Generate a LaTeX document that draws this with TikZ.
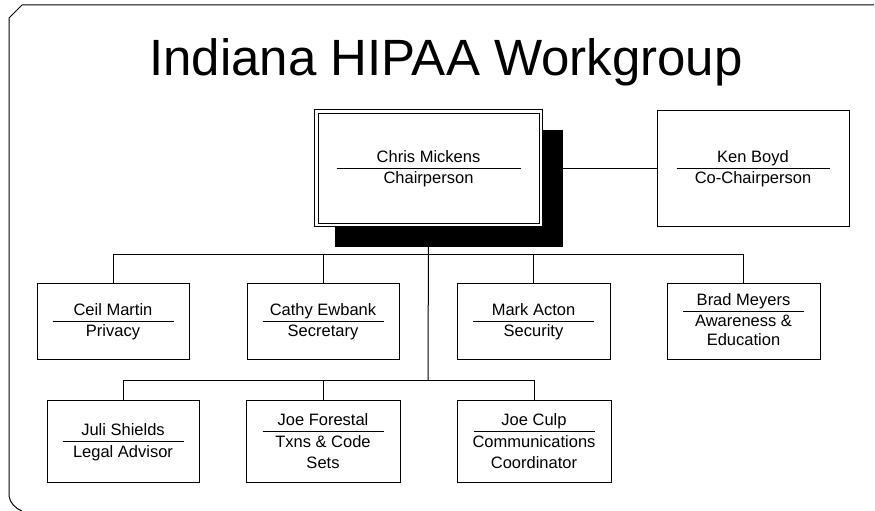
\documentclass[tikz,border=0pt]{standalone}
\usepackage{fontspec}
\setmainfont{Liberation Sans}
\usetikzlibrary{calc}
\begin{document}
\begin{tikzpicture}[x=1pt,y=-1pt,
  box/.style={draw=black, line width=1pt, fill=white, inner sep=0pt},
  txt/.style={inner sep=0pt, anchor=base, font=\fontsize{16.5}{19}\selectfont},
  conn/.style={draw=black, line width=1pt},
  sep/.style={draw=black, line width=1pt}]
\useasboundingbox (0,0) rectangle (875,511);
% outer frame (partially cropped)
\draw[line width=1pt] (874,5) -- (22,5) -- (9,18) -- (9,496) .. controls (10,503) and (15,508) .. (22,511);
% title
\node[inner sep=0pt, anchor=base, font=\fontsize{51}{60}\selectfont] (title) at (446,75) {Indiana HIPAA Workgroup};
% box positions (nodes)
\node[box, minimum width=227pt, minimum height=116pt, draw=none, fill=none] (chair) at (428.5,168) {};
\node[box, minimum width=192pt, minimum height=116pt] (ken) at (753,168) {};
\coordinate (j1) at (428,254);
\coordinate (j2) at (428,380);
\node[box, minimum width=152pt, minimum height=76pt] (ceil) at (113,321) {};
\node[box, minimum width=152pt, minimum height=76pt] (cathy) at (323,321) {};
\node[box, minimum width=153pt, minimum height=76pt] (mark) at (533.5,321) {};
\node[box, minimum width=153pt, minimum height=76pt] (brad) at (743.5,321) {};
\node[box, minimum width=152pt, minimum height=82pt] (juli) at (123,441) {};
\node[box, minimum width=154pt, minimum height=82pt] (forestal) at (323,441) {};
\node[box, minimum width=154pt, minimum height=82pt] (culp) at (534,441) {};
% connectors
\draw[conn] (chair.east) -- (ken.west);
\draw[conn] (chair.south) -- (j2);
\draw[conn] (ceil.north) -- (ceil.north |- j1) -- (brad.north |- j1) -- (brad.north);
\draw[conn] (cathy.north) -- (cathy.north |- j1);
\draw[conn] (mark.north) -- (mark.north |- j1);
\draw[conn] (juli.north) -- (juli.north |- j2) -- (culp.north |- j2) -- (culp.north);
\draw[conn] (forestal.north) -- (forestal.north |- j2);
% chair box with shadow and double border
\fill[black] ($(chair.north west)+(20,20)$) rectangle ($(chair.south east)+(20,20)$);
\filldraw[fill=white, draw=black, line width=1pt] (chair.north west) rectangle (chair.south east);
\draw[line width=1pt] ($(chair.north west)+(3.5,3.5)$) rectangle ($(chair.south east)+(-3.5,-3.5)$);
% chair text
\node[txt] (chair-n) at ([shift={(0,-5.5)}]chair.center) {Chris Mickens};
\draw[sep] ([shift={(-92,0)}]chair.center) -- ([shift={(92,0)}]chair.center);
\node[txt] (chair-r) at ([shift={(0,15.5)}]chair.center) {Chairperson};
% ken text
\node[txt] (ken-n) at ([shift={(0,-5.5)}]ken.center) {Ken Boyd};
\draw[sep] ([shift={(-76.5,0)}]ken.center) -- ([shift={(76.5,0)}]ken.center);
\node[txt] (ken-r) at ([shift={(0,15.5)}]ken.center) {Co-Chairperson};
% row 1
\node[txt] (ceil-n) at ([shift={(0,-5.5)}]ceil.center) {Ceil Martin};
\draw[sep] ([shift={(-60.5,0)}]ceil.center) -- ([shift={(60.5,0)}]ceil.center);
\node[txt] (ceil-r) at ([shift={(0,15.5)}]ceil.center) {Privacy};
\node[txt] (cathy-n) at ([shift={(0,-5.5)}]cathy.center) {Cathy Ewbank};
\draw[sep] ([shift={(-60.5,0)}]cathy.center) -- ([shift={(60.5,0)}]cathy.center);
\node[txt] (cathy-r) at ([shift={(0,15.5)}]cathy.center) {Secretary};
\node[txt] (mark-n) at ([shift={(0,-5.5)}]mark.center) {Mark Acton};
\draw[sep] ([shift={(-60.5,0)}]mark.center) -- ([shift={(60.5,0)}]mark.center);
\node[txt] (mark-r) at ([shift={(0,15.5)}]mark.center) {Security};
\node[txt] (brad-n) at ([shift={(0,-15.5)}]brad.center) {Brad Meyers};
\draw[sep] ([shift={(-60.5,-10)}]brad.center) -- ([shift={(60.5,-10)}]brad.center);
\node[txt] (brad-r1) at ([shift={(0,5.5)}]brad.center) {Awareness \&};
\node[txt] (brad-r2) at ([shift={(0,24.5)}]brad.center) {Education};
% row 2
\node[txt] (juli-n) at ([shift={(0,-5.5)}]juli.center) {Juli Shields};
\draw[sep] ([shift={(-60.5,0)}]juli.center) -- ([shift={(60.5,0)}]juli.center);
\node[txt] (juli-r) at ([shift={(0,16.5)}]juli.center) {Legal Advisor};
\node[txt] (forestal-n) at ([shift={(0,-15.5)}]forestal.center) {Joe Forestal};
\draw[sep] ([shift={(-60.5,-10)}]forestal.center) -- ([shift={(60.5,-10)}]forestal.center);
\node[txt] (forestal-r1) at ([shift={(0,6)}]forestal.center) {Txns \& Code};
\node[txt] (forestal-r2) at ([shift={(0,27)}]forestal.center) {Sets};
\node[txt] (culp-n) at ([shift={(0,-15.5)}]culp.center) {Joe Culp};
\draw[sep] ([shift={(-60.5,-10)}]culp.center) -- ([shift={(60.5,-10)}]culp.center);
\node[txt] (culp-r1) at ([shift={(0,6)}]culp.center) {Communications};
\node[txt] (culp-r2) at ([shift={(0,27)}]culp.center) {Coordinator};
\end{tikzpicture}
\end{document}
